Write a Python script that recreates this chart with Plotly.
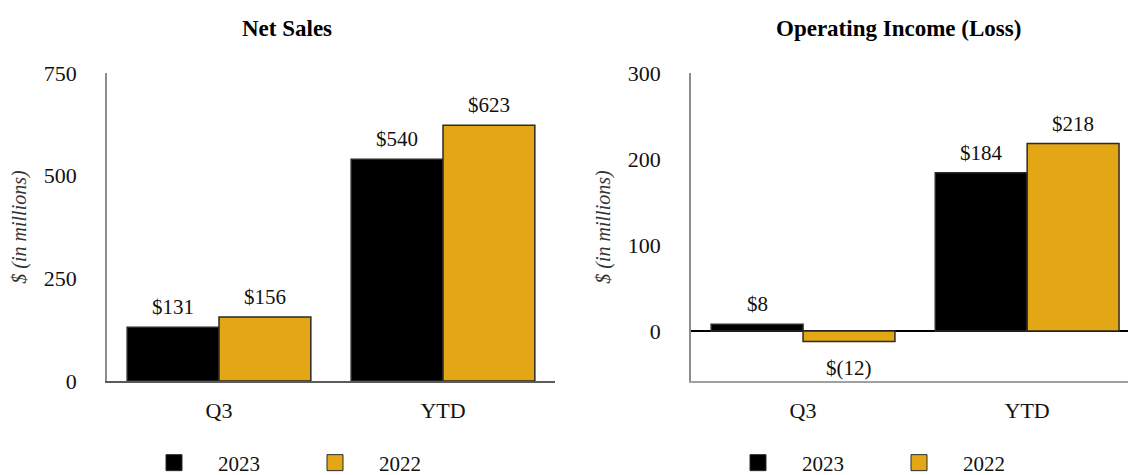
import plotly.graph_objects as go

# ---- data ----
categories = ["Q3", "YTD"]
years = ["2023", "2022"]
net_sales_2023 = [131, 540]
net_sales_2022 = [156, 623]
op_income_2023 = [8, 184]
op_income_2022 = [-12, 218]
net_sales_ticks = [0, 250, 500, 750]
op_income_ticks = [0, 100, 200, 300]
chart_titles = ["Net Sales", "Operating Income (Loss)"]
y_title = "$ (in millions)"

# ---- style ----
FONT = "Liberation Serif"
COLORS = {"2023": "#000000", "2022": "#E3A614"}
OUTLINE = "#2a2a2a"
W, H = 1128, 475
BARGAP = 0.18

def fmt(v):
    return f"${v}" if v >= 0 else f"$({-v})"

fig = go.Figure()

panels = [
    dict(xa="x", ya="y", legend="legend", series={"2023": net_sales_2023, "2022": net_sales_2022}),
    dict(xa="x2", ya="y2", legend="legend2", series={"2023": op_income_2023, "2022": op_income_2022}),
]

annotations = []
bar_w = (1 - BARGAP) / 2
for p in panels:
    for k, yr in enumerate(years):
        vals = p["series"][yr]
        fig.add_trace(go.Bar(
            x=categories, y=vals, name=yr, xaxis=p["xa"], yaxis=p["ya"],
            marker=dict(color=COLORS[yr], line=dict(color=OUTLINE, width=1.5)),
            offsetgroup=yr, showlegend=False,
        ))
        # legend proxy (larger square swatch)
        fig.add_trace(go.Scatter(
            x=[None], y=[None], mode="markers", name=yr, xaxis=p["xa"], yaxis=p["ya"],
            marker=dict(symbol="square", size=16, color=COLORS[yr], line=dict(color=OUTLINE, width=1)),
            legend=p["legend"], showlegend=True,
        ))
        off = (k - 0.5) * bar_w
        for i, v in enumerate(vals):
            annotations.append(dict(
                x=i + off, y=v, xref=p["xa"], yref=p["ya"], text=fmt(v), showarrow=False,
                yanchor="bottom" if v >= 0 else "top", yshift=6 if v >= 0 else -13,
                font=dict(family=FONT, size=21, color="#111"),
            ))

# domains (pixels -> paper)
xd1 = [107 / W, 555 / W]
xd2 = [691 / W, 1.0]
yd = [(H - 381) / H, (H - 73) / H]

for txt, xc in zip(chart_titles, [287, 898]):
    annotations.append(dict(
        x=xc / W, y=(H - 28) / H,
        xref="paper", yref="paper", text=f"<b>{txt}</b>", showarrow=False,
        xanchor="center", yanchor="middle", font=dict(family=FONT, size=23, color="#000"),
    ))

tickfont = dict(family=FONT, size=22, color="#111")
yaxis_common = dict(
    showgrid=False, showline=True, linecolor="#8c8c8c", linewidth=1.5, ticks="",
    ticklabelstandoff=24, tickfont=tickfont,
    title=dict(text=y_title, font=dict(family=FONT, size=20, style="italic", color="#333"), standoff=12),
)

legend_common = dict(orientation="h", xanchor="left", y=12 / H, yanchor="middle",
                     itemwidth=78, entrywidth=68, font=dict(family=FONT, size=21, color="#111"),
                     bgcolor="rgba(0,0,0,0)")

fig.update_layout(
    width=W, height=H,
    margin=dict(l=0, r=0, t=0, b=0, autoexpand=False),
    paper_bgcolor="white", plot_bgcolor="white",
    barmode="group", bargap=BARGAP, bargroupgap=0,
    font=dict(family=FONT, size=21, color="#111"),
    xaxis=dict(domain=xd1, range=[-0.5, 1.5], showline=True, linecolor="#5a5a5a", linewidth=2,
               ticks="", tickfont=tickfont, ticklabelstandoff=9, showgrid=False, zeroline=False),
    yaxis=dict(domain=yd, range=[0, 750], tickvals=net_sales_ticks, zeroline=False, **yaxis_common),
    xaxis2=dict(domain=xd2, range=[-0.5, 1.45], anchor="y2", showline=True, linecolor="#a0a0a0",
                linewidth=1.5, ticks="", tickfont=tickfont, ticklabelstandoff=9, showgrid=False,
                zeroline=False),
    yaxis2=dict(domain=yd, range=[-58, 300], anchor="x2", tickvals=op_income_ticks, zeroline=True,
                zerolinecolor="#000", zerolinewidth=1.5, **yaxis_common),
    legend=dict(x=130 / W, **legend_common),
    legend2=dict(x=714 / W, **legend_common),
    annotations=annotations,
)

fig.write_html("out.html")
